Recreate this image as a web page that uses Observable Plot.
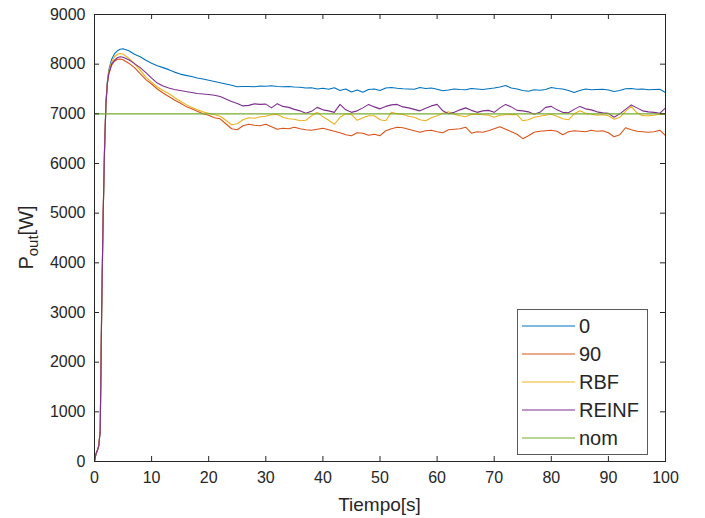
<!DOCTYPE html>
<html>
<head>
<meta charset="utf-8">
<script src="https://cdn.jsdelivr.net/npm/d3@7"></script>
<script src="https://cdn.jsdelivr.net/npm/@observablehq/plot@0.6"></script>
<style>
  html, body { margin: 0; padding: 0; background: #fff; }
  #wrap { position: relative; width: 705px; height: 518px; }
</style>
</head>
<body>
<div id="wrap"></div>
<script>
// ---- data ----
const time = [0,0.25,0.5,0.75,1,1.25,1.5,1.75,2,2.25,2.5,3,3.5,4,4.5,5,
  6,7,8,9,10,11,12,13,14,15,16,17,18,19,20,21,22,23,24,25,
  26,27,28,29,30,31,32,33,34,35,
  36,37,38,39,40,41,42,43,44,45,
  46,47,48,49,50,51,52,53,54,55,
  56,57,58,59,60,61,62,63,64,65,
  66,67,68,69,70,71,72,73,74,75,
  76,77,78,79,80,81,82,83,84,85,
  86,87,88,89,90,91,92,93,94,95,
  96,97,98,99,100];

const s0 = [0,150,220,320,620,3000,4850,6250,7220,7650,7880,8100,8210,8270,8300,8310,
  8270,8200,8150,8080,8020,7970,7930,7890,7840,7800,7775,7750,7720,7700,7675,7650,7625,7600,7575,7545,
  7550,7550,7545,7560,7555,7565,7550,7545,7550,7540,
  7535,7520,7525,7500,7515,7495,7525,7470,7500,7440,
  7480,7435,7490,7500,7470,7520,7530,7515,7505,7500,
  7495,7530,7510,7520,7495,7465,7480,7500,7490,7485,
  7510,7500,7490,7505,7520,7540,7570,7520,7500,7470,
  7455,7485,7475,7490,7530,7510,7500,7470,7430,7470,
  7500,7485,7490,7495,7480,7450,7470,7505,7510,7495,
  7500,7485,7490,7495,7430];

const s90 = [0,150,220,320,620,3000,4850,6250,7180,7600,7800,7980,8060,8100,8105,8090,
  8020,7930,7810,7690,7600,7500,7420,7350,7280,7220,7150,7100,7050,7000,6970,6920,6900,6800,6700,6680,
  6760,6790,6770,6760,6790,6740,6690,6710,6700,6730,
  6700,6680,6670,6690,6710,6680,6650,6620,6580,6560,
  6620,6610,6570,6590,6560,6660,6700,6730,6720,6690,
  6660,6630,6660,6670,6640,6620,6680,6690,6700,6730,
  6610,6640,6630,6660,6700,6740,6690,6640,6590,6500,
  6560,6630,6650,6660,6670,6650,6580,6640,6660,6650,
  6640,6670,6650,6660,6620,6540,6580,6720,6680,6650,
  6640,6630,6640,6670,6560];

const sRBF = [0,150,220,320,620,3000,4850,6250,7200,7630,7850,8050,8150,8200,8215,8200,
  8120,8010,7880,7740,7640,7540,7470,7410,7330,7260,7190,7130,7080,7040,7010,6980,6950,6870,6780,6800,
  6880,6920,6910,6940,6950,6980,6990,6930,6900,6890,
  6860,6870,6960,7030,6940,6870,6790,6930,7000,6990,
  6870,6920,6960,6960,6880,6860,7030,7000,6990,6950,
  6930,6880,6860,6920,6960,7010,7040,6990,6960,6940,
  6990,6990,6980,6970,6930,6970,6980,6990,6980,6860,
  6880,6930,6950,6970,6990,6950,6900,6880,7000,7060,
  7010,6990,6970,6980,6960,6890,6930,7050,7150,7020,
  6960,6960,6970,6990,7000];

const sREINF = [0,150,220,320,620,3000,4850,6250,7190,7610,7810,8000,8080,8130,8150,8140,
  8090,8010,7930,7830,7720,7620,7560,7520,7490,7470,7450,7430,7410,7400,7390,7375,7350,7300,7250,7210,
  7160,7170,7200,7190,7195,7120,7205,7150,7130,7090,
  7060,7010,7050,7130,7080,7060,7030,7190,7080,7030,
  7060,7120,7190,7140,7100,7150,7180,7190,7140,7120,
  7090,7060,7110,7160,7190,7060,7000,7030,7080,7120,
  7070,7030,7060,7070,7030,7120,7190,7140,7070,7060,
  7040,6990,7030,7130,7150,7080,7030,7020,7090,7150,
  7100,7080,7040,7020,7010,6930,7000,7090,7180,7120,
  7060,7040,7030,7010,7120];

const nomTime = [0, 100];
const nomVal = [7000, 7000];

const seriesNames = ["0", "90", "RBF", "REINF", "nom"];
const xTicks = [0,10,20,30,40,50,60,70,80,90,100];
const yTicks = [0,1000,2000,3000,4000,5000,6000,7000,8000,9000];

// ---- styles ----
const colors = ["#0072BD", "#D95319", "#EDB120", "#7E2F8E", "#77AC30"];
const axisColor = "#262626";
const font = "'Liberation Sans', Arial, sans-serif";

const seriesData = [
  time.map((t, i) => ({t, v: s0[i]})),
  time.map((t, i) => ({t, v: s90[i]})),
  time.map((t, i) => ({t, v: sRBF[i]})),
  time.map((t, i) => ({t, v: sREINF[i]})),
  nomTime.map((t, i) => ({t, v: nomVal[i]}))
];

const W = 705, H = 518, mL = 94, mR = 40, mT = 14, mB = 57;
const innerW = W - mL - mR, innerH = H - mT - mB, tk = 5;

const svg = Plot.plot({
  width: W, height: H,
  marginLeft: mL, marginRight: mR, marginTop: mT, marginBottom: mB,
  style: {fontFamily: font, fontSize: "16px", color: axisColor, background: "#fff"},
  x: {domain: [0, 100]},
  y: {domain: [0, 9000]},
  marks: [
    ...seriesData.map((d, i) => Plot.line(d, {x: "t", y: "v", stroke: colors[i], strokeWidth: 1.1})),
    Plot.frame({stroke: axisColor, strokeWidth: 1}),
    Plot.tickX(xTicks, {x: d => d, insetTop: innerH - tk, stroke: axisColor}),
    Plot.tickX(xTicks, {x: d => d, insetBottom: innerH - tk, stroke: axisColor}),
    Plot.tickY(yTicks, {y: d => d, insetRight: innerW - tk, stroke: axisColor}),
    Plot.tickY(yTicks, {y: d => d, insetLeft: innerW - tk, stroke: axisColor}),
    Plot.axisX(xTicks, {tickSize: 0, tickPadding: 10, label: null, fill: axisColor}),
    Plot.axisY(yTicks, {tickSize: 0, tickPadding: 9, label: null, tickFormat: d => String(d), fill: axisColor})
  ]
});

document.getElementById("wrap").appendChild(svg);

// axis titles
const s = d3.select(svg);
s.append("text")
  .attr("x", mL + innerW / 2).attr("y", 511)
  .attr("text-anchor", "middle")
  .attr("font-family", font).attr("font-size", 19).attr("fill", axisColor)
  .text("Tiempo[s]");
const yl = s.append("text")
  .attr("transform", `translate(33,${mT + innerH / 2}) rotate(-90)`)
  .attr("text-anchor", "middle")
  .attr("font-family", font).attr("font-size", 20).attr("fill", axisColor);
yl.append("tspan").text("P");
yl.append("tspan").attr("font-size", 15).attr("dy", 5).text("out");
yl.append("tspan").attr("dy", -5).text("[W]");

// legend (inside axes, lower right)
const lg = s.append("g").attr("font-family", font).attr("text-anchor", "start");
lg.append("rect")
  .attr("x", 517.5).attr("y", 309.5).attr("width", 130).attr("height", 145)
  .attr("fill", "#fff").attr("stroke", "#5a5a5a").attr("stroke-width", 1);
seriesNames.forEach((name, i) => {
  const cy = 326 + i * 28;
  lg.append("line")
    .attr("x1", 522).attr("x2", 575).attr("y1", cy).attr("y2", cy)
    .attr("stroke", colors[i]).attr("stroke-width", 1.1);
  lg.append("text")
    .attr("x", 579).attr("y", cy).attr("dy", "0.36em")
    .attr("text-anchor", "start")
    .attr("font-size", 20).attr("fill", axisColor)
    .text(name);
});
</script>
</body>
</html>
